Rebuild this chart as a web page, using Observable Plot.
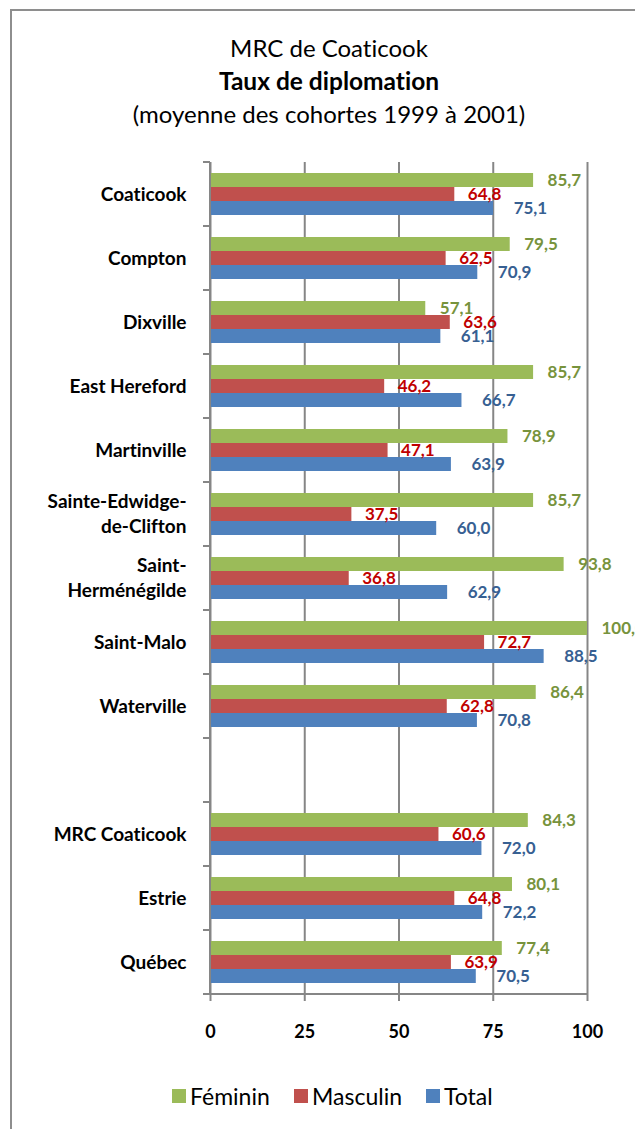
<!DOCTYPE html>
<html>
<head>
<meta charset="utf-8">
<script src="https://cdn.jsdelivr.net/npm/d3@7"></script>
<script src="https://cdn.jsdelivr.net/npm/@observablehq/plot@0.6"></script>
<style>
  html, body { margin: 0; padding: 0; background: #fff; overflow: hidden; }
  body { width: 635px; height: 1129px; position: relative; font-family: Lato, "Open Sans", sans-serif;
    font-variant-ligatures: none; font-feature-settings: "liga" 0, "dlig" 0, "clig" 0; }
  svg, svg text { font-variant-ligatures: none; font-feature-settings: "liga" 0, "dlig" 0, "clig" 0; }
  #frame { position: absolute; left: 10px; top: 9px; width: 720px; height: 1200px; border: 2px solid #8e8e8e; box-sizing: border-box; }
  .title { position: absolute; left: 0; width: 658px; text-align: center; font-size: 24px; line-height: 33px; color: #000; white-space: nowrap; }
  #chart { position: absolute; left: 0; top: 140px; }
  .leg { position: absolute; top: 1080px; display: flex; align-items: center; font-size: 23px; line-height: 32px; color: #000; white-space: nowrap; }
  .leg span.sw { display: inline-block; width: 14px; height: 14px; margin-right: 4px; }
</style>
</head>
<body>
<div id="frame"></div>
<div class="title" style="top:31px">MRC de Coaticook</div>
<div class="title" style="top:64px;font-weight:bold;font-size:24.5px">Taux de diplomation</div>
<div class="title" style="top:97px">(moyenne des cohortes 1999 à 2001)</div>
<div id="chart"></div>
<div id="legend"></div>
<script>
// ---- data ----
const categories = ["Coaticook", "Compton", "Dixville", "East Hereford", "Martinville",
  "Sainte-Edwidge-de-Clifton", "Saint-Herménégilde", "Saint-Malo", "Waterville", " ",
  "MRC Coaticook", "Estrie", "Québec"];
const categoryLabels = ["Coaticook", "Compton", "Dixville", "East Hereford", "Martinville",
  "Sainte-Edwidge-\nde-Clifton", "Saint-\nHerménégilde", "Saint-Malo", "Waterville", "",
  "MRC Coaticook", "Estrie", "Québec"];
const series = ["Féminin", "Masculin", "Total"];
const feminin  = [85.7, 79.5, 57.1, 85.7, 78.9, 85.7, 93.8, 100.0, 86.4, null, 84.3, 80.1, 77.4];
const masculin = [64.8, 62.5, 63.6, 46.2, 47.1, 37.5, 36.8, 72.7, 62.8, null, 60.6, 64.8, 63.9];
const total    = [75.1, 70.9, 61.1, 66.7, 63.9, 60.0, 62.9, 88.5, 70.8, null, 72.0, 72.2, 70.5];
const xTicks = [0, 25, 50, 75, 100];

// ---- styles ----
const barColors = ["#9BBB59", "#C0504D", "#4F81BD"];
const labelColors = ["#77933C", "#C00000", "#376092"];
const labelDx = [14, 13, 20];
const gridColor = "#868686";

const valuesBySeries = [feminin, masculin, total];
const rows = categories.flatMap((c, i) => series.map((s, j) => ({category: c, series: s, value: valuesBySeries[j][i]})))
  .filter(d => d.value != null);
const gridRows = categories.flatMap(c => xTicks.map(t => ({category: c, tick: t})));
const catRows = categories.map((c, i) => ({category: c, label: categoryLabels[i]}));
const fmt = v => v.toFixed(1).replace(".", ",");

const plot = Plot.plot({
  width: 635,
  height: 914,
  marginLeft: 210,
  marginRight: 48,
  marginTop: 21,
  marginBottom: 60,
  style: {fontFamily: "Lato, 'Open Sans', sans-serif", background: "transparent", overflow: "visible"},
  x: {domain: [0, 100]},
  y: {domain: series, paddingInner: 0, paddingOuter: 0.73, axis: null},
  fy: {domain: categories, padding: 0, axis: null},
  color: {domain: series, range: barColors},
  marks: [
    Plot.ruleX(gridRows, {x: "tick", fy: "category", stroke: gridColor, strokeWidth: 2}),
    Plot.barX(rows, {x: "value", y: "series", fy: "category", fill: "series"}),
    ...series.map((s, j) => Plot.text(rows.filter(d => d.series === s), {
      x: "value", y: "series", fy: "category", text: d => fmt(d.value),
      textAnchor: "start", dx: labelDx[j], fill: labelColors[j],
      fontWeight: "bold", fontSize: 17
    })),
    Plot.text(catRows, {
      fy: "category", text: "label", frameAnchor: "left", textAnchor: "end", dx: -24, dy: -2,
      lineAnchor: "middle", lineHeight: 1.32, fontWeight: "bold", fontSize: 19, fill: "#000",
      ariaLabel: "category-labels"
    }),
    Plot.axisX({
      anchor: "bottom", ticks: xTicks, tickFormat: d => String(d), tickSize: 7, tickPadding: 24,
      stroke: gridColor, strokeWidth: 2, fill: "#000", fontSize: 18, fontWeight: "bold", label: null
    })
  ]
});

document.getElementById("chart").appendChild(plot);

// axis line, category boundary ticks (from the plot's own scales)
const fy = plot.scale("fy");
const xs = plot.scale("x");
const svg = d3.select(plot);
const x0 = xs.apply(0), x100 = xs.apply(100);
const bounds = fy.domain.map(v => fy.apply(v));
const bottom = fy.apply(fy.domain[fy.domain.length - 1]) + fy.bandwidth;
bounds.push(bottom);
const g = svg.append("g").attr("stroke", gridColor).attr("stroke-width", 2);
g.append("line").attr("x1", x0).attr("x2", x0).attr("y1", bounds[0]).attr("y2", bottom);
bounds.forEach(b => g.append("line").attr("x1", x0 - 7).attr("x2", x0).attr("y1", b).attr("y2", b));
g.append("line").attr("x1", x0 - 7).attr("x2", x100).attr("y1", bottom).attr("y2", bottom);

// center multi-line category labels (Excel-style wrapping)
svg.selectAll('g[aria-label="category-labels"] text').each(function() {
  const tspans = this.querySelectorAll("tspan");
  if (tspans.length > 1) {
    let w = 0;
    tspans.forEach(t => { w = Math.max(w, t.getComputedTextLength()); });
    this.setAttribute("text-anchor", "middle");
    const tr = this.getAttribute("transform") || "";
    this.setAttribute("transform", tr + ` translate(${-w / 2},0)`);
  }
});

// legend
const legend = document.getElementById("legend");
const legendLeft = [172, 294, 426];
series.forEach((s, j) => {
  const item = document.createElement("div");
  item.className = "leg";
  item.style.left = legendLeft[j] + "px";
  item.innerHTML = `<span class="sw" style="background:${barColors[j]}"></span><span>${s}</span>`;
  legend.appendChild(item);
});
</script>
</body>
</html>
